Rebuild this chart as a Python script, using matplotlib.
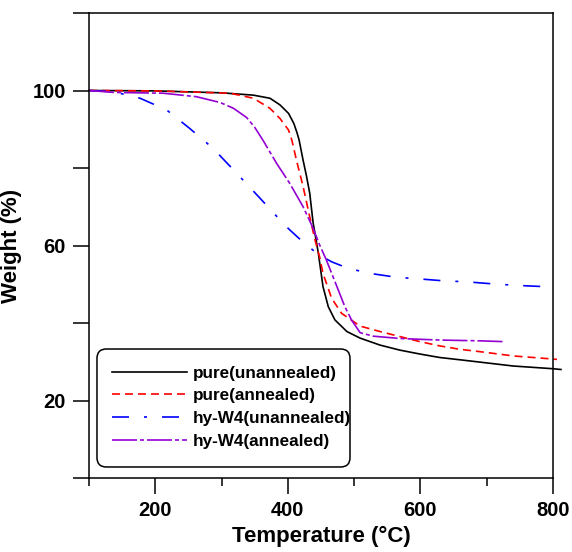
import matplotlib
matplotlib.use('Agg')
import matplotlib.pyplot as plt
from matplotlib.patches import FancyBboxPatch
from matplotlib.ticker import FixedLocator, NullFormatter

plt.rcParams['font.family'] = ['Liberation Sans', 'DejaVu Sans']
plt.rcParams['font.weight'] = 'bold'

# ── Daten ─────────────────────────────────────────────────────────
t_pure_un = [100, 200, 300, 348, 373, 388, 401, 409, 414, 417, 423, 428, 433, 438,
             446, 453, 461, 471, 489, 509, 539, 569, 599, 629, 660, 690, 740, 800, 812]
w_pure_un = [100, 99.9, 99.4, 98.8, 98, 96.3, 94.1, 91.5, 89, 87.2, 82, 78, 73.5, 66,
             58, 49.4, 44.2, 40.8, 37.8, 36.1, 34.3, 33, 32, 31.1, 30.5, 29.9, 28.9, 28.2, 28]

t_pure_an = [100, 200, 313, 348, 373, 388, 401, 406, 413, 423, 433, 441, 448,
             453, 466, 481, 509, 539, 569, 599, 629, 660, 690, 740, 800, 806]
w_pure_an = [100, 99.9, 99.3, 98, 95.4, 92.8, 89.8, 87.2, 82, 75.2, 67.4, 61.4, 57,
             52.8, 46.4, 42.5, 39.2, 37.8, 36.5, 35.2, 34.1, 33.2, 32.6, 31.5, 30.7, 30.6]

t_hy_un = [100, 137, 177, 217, 252, 287, 323, 358, 393, 403, 428, 448, 466,
           491, 524, 564, 604, 634, 672, 709, 746, 785]
w_hy_un = [100, 99.7, 98, 95, 90.2, 85.1, 78.6, 72.2, 65.7, 64, 60.1, 57.5, 55.8,
           54.1, 52.8, 51.8, 51.3, 50.9, 50.6, 50.1, 49.7, 49.4]

t_hy_an = [100, 137, 212, 262, 298, 318, 338, 350, 363, 383, 403, 423, 438, 448,
           458, 474, 486, 496, 509, 529, 569, 629, 690, 724]
w_hy_an = [100, 99.5, 99.3, 98.4, 96.9, 95.4, 93, 90.5, 87, 81.2, 76, 70, 64.5, 60.1,
           56.3, 49.4, 44.2, 40.8, 37.5, 36.6, 36, 35.6, 35.4, 35.2]

labels = ['pure(unannealed)', 'pure(annealed)', 'hy-W4(unannealed)', 'hy-W4(annealed)']

fig = plt.figure(figsize=(5.72, 5.52), dpi=100)
ax = fig.add_axes([89 / 572, 74 / 552, 464 / 572, 465 / 552])

lw = 1.2
ax.plot(t_pure_un, w_pure_un, color='black', lw=lw, label=labels[0], clip_on=False)
ax.plot(t_pure_an, w_pure_an, color='#ff0000', lw=lw, ls=(0, (4.8, 3)),
        label=labels[1], clip_on=False)
ax.plot(t_hy_un, w_hy_un, color='#0000ff', lw=lw, ls=(0, (10.2, 9, 1.8, 9)),
        label=labels[2], clip_on=False)
ax.plot(t_hy_an, w_hy_an, color='#9400d3', lw=lw, ls=(0, (15, 1.8, 2.4, 1.8)),
        label=labels[3], clip_on=False)

ax.set_xlim(100, 800)
ax.set_ylim(0, 120)

ax.xaxis.set_major_locator(FixedLocator([200, 400, 600, 800]))
ax.xaxis.set_minor_locator(FixedLocator([100, 300, 500, 700]))
ax.yaxis.set_major_locator(FixedLocator([20, 60, 100]))
ax.yaxis.set_minor_locator(FixedLocator([0, 40, 80, 120]))
ax.yaxis.set_minor_formatter(NullFormatter())

ax.tick_params(axis='both', which='both', direction='out', width=1.1,
               labelsize=14.5, pad=5)
ax.tick_params(axis='y', which='both', length=11.5)
ax.tick_params(axis='x', which='major', length=11.5)
ax.tick_params(axis='x', which='minor', length=5.8)
for s in ax.spines.values():
    s.set_linewidth(1.1)

ax.set_xlabel('Temperature (°C)', fontsize=16, fontweight='bold', labelpad=4)
ax.set_ylabel('Weight (%)', fontsize=16, fontweight='bold', labelpad=8)

# Legendenrahmen separat (ungleichmäßige Ränder wie im Original)
frame = FancyBboxPatch((0.0172, 0.0237), 0.5453, 0.2537,
                       boxstyle='round,pad=0,rounding_size=0.02',
                       transform=ax.transAxes, facecolor='white',
                       edgecolor='black', linewidth=1.1, zorder=4)
ax.add_patch(frame)

leg = ax.legend(loc='upper left', bbox_to_anchor=(0.049, 0.2415), borderaxespad=0,
                borderpad=0, fontsize=12.3, handlelength=4.4, handletextpad=0.37,
                labelspacing=0.45, frameon=False)
leg.set_zorder(5)
for txt in leg.get_texts():
    txt.set_fontweight('bold')

plt.savefig('out.png', dpi=100)
plt.close()
